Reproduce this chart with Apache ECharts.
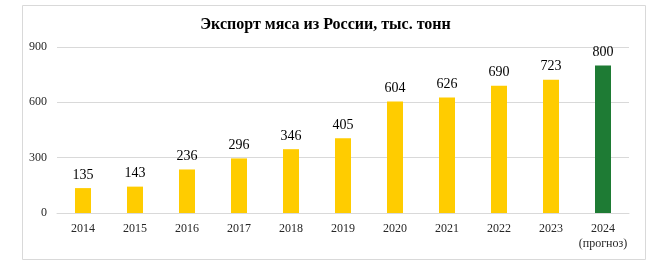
<!DOCTYPE html>
<html>
<head>
<meta charset="utf-8">
<script src="https://cdn.jsdelivr.net/npm/echarts@6/dist/echarts.min.js"></script>
<style>html,body{margin:0;padding:0;background:#fff;}#c{width:651px;height:268px;}</style>
</head>
<body>
<div id="c"></div>
<script>
const titleText = 'Экспорт мяса из России, тыс. тонн';
const categories = ['2014','2015','2016','2017','2018','2019','2020','2021','2022','2023','2024\n(прогноз)'];
const values = [135,143,236,296,346,405,604,626,690,723,800];
const forecastIndex = 10;
const yTicks = [0,300,600,900];

const chart = echarts.init(document.getElementById('c'));
const font = '"Liberation Serif","Times New Roman",serif';
chart.setOption({
  animation: false,
  graphic: [{
    type: 'rect', left: 20, top: 3,
    shape: {width: 623, height: 254},
    style: {fill: 'none', stroke: '#d9d9d9', lineWidth: 1}
  }],
  title: {
    text: titleText, left: 'center', top: 12,
    textStyle: {fontFamily: font, fontSize: 16, fontWeight: 'bold', color: '#000'}
  },
  grid: {left: 57, right: 22, top: 47, bottom: 55},
  xAxis: {
    type: 'category', data: categories,
    axisLine: {lineStyle: {color: '#d9d9d9'}},
    axisTick: {show: false},
    axisLabel: {interval: 0, fontFamily: font, fontSize: 12, color: '#262626', margin: 8, lineHeight: 15}
  },
  yAxis: {
    type: 'value', min: yTicks[0], max: yTicks[yTicks.length-1], interval: 300,
    axisLine: {show: false}, axisTick: {show: false},
    splitLine: {lineStyle: {color: '#d9d9d9'}},
    axisLabel: {fontFamily: font, fontSize: 12, color: '#262626', margin: 10}
  },
  series: [{
    type: 'bar', barWidth: 16,
    data: values.map((v, i) => ({value: v, itemStyle: {color: i === forecastIndex ? '#1e7b34' : '#ffcc00'}})),
    label: {show: true, position: 'top', distance: 6, fontFamily: font, fontSize: 14, color: '#000'}
  }]
});
</script>
</body>
</html>
